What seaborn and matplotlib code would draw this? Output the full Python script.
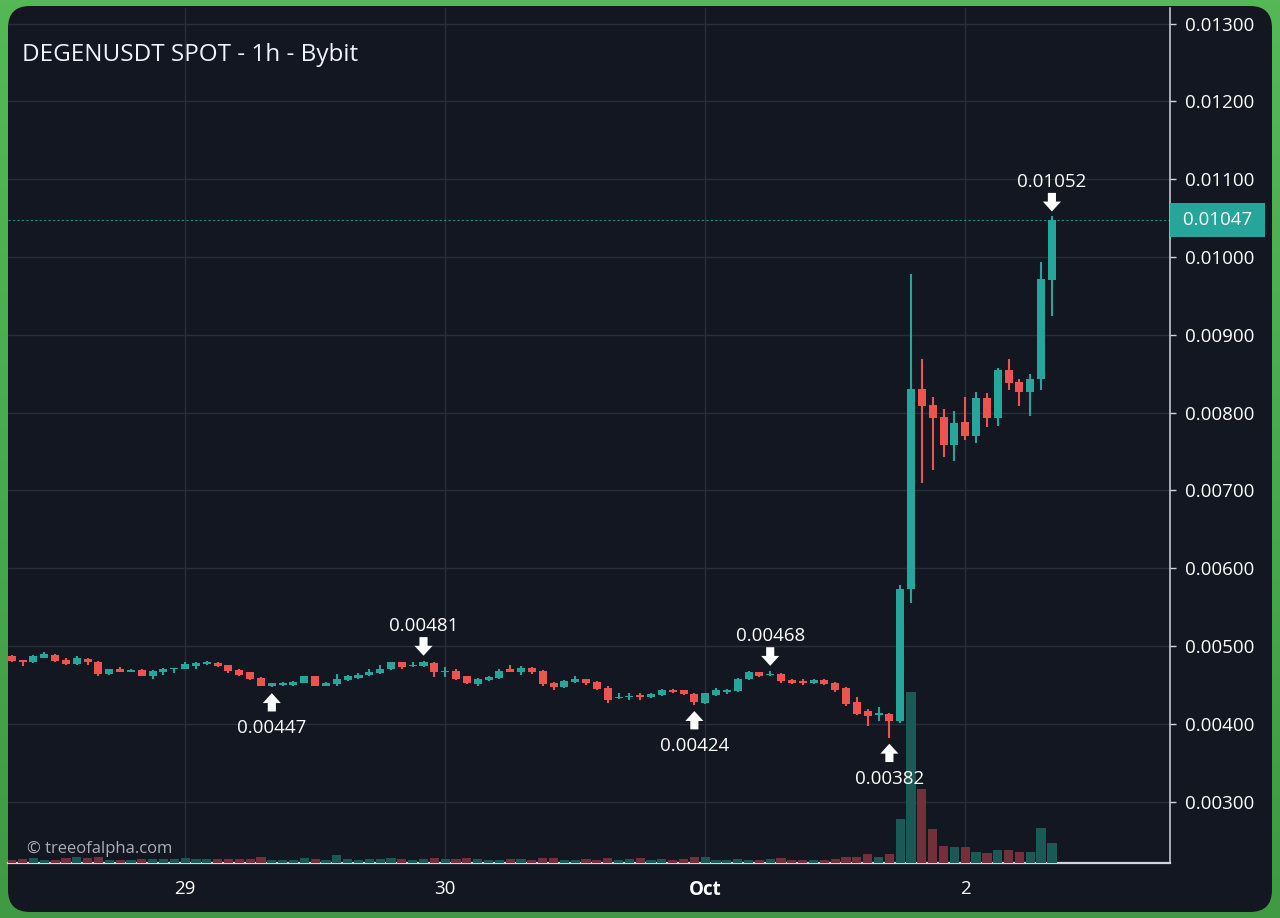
# DEGENUSDT 1h candles with volume - dark chart card

import numpy as np
import pandas as pd
import matplotlib
matplotlib.use("Agg")
from matplotlib import pyplot as plt
from matplotlib.patches import FancyBboxPatch
from matplotlib.colors import LinearSegmentedColormap
from matplotlib.transforms import blended_transform_factory
import seaborn as sns

# ======================================================================
# Data (hourly candles)
# ======================================================================
start_time = "2024-09-28 08:00"

opens = [0.00487, 0.00481, 0.00479, 0.00485, 0.00489, 0.00482, 0.00477, 0.00483, 0.00480, 0.00464,
         0.00470, 0.00467, 0.00469, 0.00461, 0.00467, 0.00470, 0.00471, 0.00474, 0.00477, 0.00478,
         0.00475, 0.00469, 0.00466, 0.00459, 0.00449, 0.00450, 0.00450, 0.00453, 0.00461, 0.00449,
         0.00451, 0.00456, 0.00459, 0.00463, 0.00465, 0.00470, 0.00479, 0.00474, 0.00474, 0.00478,
         0.00467, 0.00468, 0.00461, 0.00451, 0.00456, 0.00459, 0.00470, 0.00467, 0.00472, 0.00468,
         0.00452, 0.00447, 0.00454, 0.00457, 0.00454, 0.00446, 0.00433, 0.00434, 0.00437, 0.00434,
         0.00437, 0.00443, 0.00443, 0.00438, 0.00427, 0.00437, 0.00441, 0.00442, 0.00457, 0.00467,
         0.00463, 0.00464, 0.00456, 0.00455, 0.00452, 0.00456, 0.00453, 0.00446, 0.00428, 0.00416,
         0.00411, 0.00413, 0.00403, 0.00573, 0.00830, 0.00810, 0.00794, 0.00758, 0.00788, 0.00770,
         0.00819, 0.00793, 0.00855, 0.00839, 0.00826, 0.00843, 0.00970]
highs = [0.00488, 0.00482, 0.00488, 0.00492, 0.00490, 0.00484, 0.00487, 0.00485, 0.00481, 0.00471,
         0.00473, 0.00470, 0.00470, 0.00469, 0.00472, 0.00472, 0.00479, 0.00479, 0.00481, 0.00479,
         0.00476, 0.00470, 0.00467, 0.00460, 0.00453, 0.00454, 0.00455, 0.00462, 0.00462, 0.00454,
         0.00464, 0.00463, 0.00465, 0.00470, 0.00475, 0.00480, 0.00480, 0.00479, 0.00481, 0.00479,
         0.00473, 0.00471, 0.00462, 0.00459, 0.00461, 0.00470, 0.00476, 0.00474, 0.00473, 0.00469,
         0.00454, 0.00456, 0.00461, 0.00458, 0.00455, 0.00449, 0.00440, 0.00439, 0.00440, 0.00440,
         0.00445, 0.00445, 0.00444, 0.00439, 0.00440, 0.00446, 0.00445, 0.00459, 0.00468, 0.00467,
         0.00468, 0.00465, 0.00458, 0.00458, 0.00457, 0.00457, 0.00454, 0.00447, 0.00434, 0.00419,
         0.00422, 0.00414, 0.00578, 0.00978, 0.00869, 0.00820, 0.00804, 0.00802, 0.00820, 0.00826,
         0.00825, 0.00857, 0.00869, 0.00843, 0.00849, 0.00994, 0.01052]
lows = [0.00479, 0.00474, 0.00478, 0.00484, 0.00480, 0.00475, 0.00476, 0.00476, 0.00462, 0.00463,
        0.00466, 0.00466, 0.00461, 0.00458, 0.00463, 0.00465, 0.00470, 0.00470, 0.00476, 0.00473,
        0.00465, 0.00462, 0.00456, 0.00448, 0.00447, 0.00449, 0.00449, 0.00452, 0.00448, 0.00448,
        0.00448, 0.00455, 0.00458, 0.00462, 0.00464, 0.00469, 0.00470, 0.00473, 0.00473, 0.00460,
        0.00460, 0.00456, 0.00451, 0.00448, 0.00455, 0.00458, 0.00466, 0.00463, 0.00464, 0.00449,
        0.00443, 0.00446, 0.00452, 0.00450, 0.00443, 0.00427, 0.00432, 0.00431, 0.00431, 0.00433,
        0.00436, 0.00440, 0.00437, 0.00424, 0.00426, 0.00436, 0.00438, 0.00441, 0.00456, 0.00460,
        0.00462, 0.00453, 0.00451, 0.00450, 0.00451, 0.00450, 0.00441, 0.00423, 0.00411, 0.00397,
        0.00403, 0.00382, 0.00401, 0.00555, 0.00710, 0.00726, 0.00743, 0.00738, 0.00765, 0.00761,
        0.00781, 0.00783, 0.00829, 0.00809, 0.00795, 0.00829, 0.00924]
closes = [0.00481, 0.00480, 0.00487, 0.00490, 0.00481, 0.00477, 0.00485, 0.00479, 0.00464, 0.00470,
          0.00467, 0.00469, 0.00462, 0.00468, 0.00470, 0.00471, 0.00477, 0.00478, 0.00479, 0.00474,
          0.00468, 0.00463, 0.00457, 0.00448, 0.00452, 0.00452, 0.00454, 0.00461, 0.00449, 0.00453,
          0.00458, 0.00461, 0.00463, 0.00467, 0.00470, 0.00479, 0.00473, 0.00476, 0.00479, 0.00466,
          0.00468, 0.00457, 0.00452, 0.00458, 0.00460, 0.00468, 0.00467, 0.00472, 0.00467, 0.00451,
          0.00447, 0.00455, 0.00458, 0.00452, 0.00445, 0.00431, 0.00435, 0.00436, 0.00434, 0.00438,
          0.00444, 0.00441, 0.00438, 0.00428, 0.00439, 0.00444, 0.00443, 0.00458, 0.00467, 0.00461,
          0.00464, 0.00455, 0.00452, 0.00452, 0.00456, 0.00451, 0.00444, 0.00425, 0.00413, 0.00410,
          0.00414, 0.00404, 0.00573, 0.00830, 0.00809, 0.00793, 0.00758, 0.00787, 0.00770, 0.00819,
          0.00793, 0.00855, 0.00838, 0.00826, 0.00843, 0.00972, 0.01047]
# volume in millions of DEGEN (approximate)
volumes = [3.3, 4.0, 4.7, 3.3, 3.3, 5.3, 5.7, 5.3, 5.7, 3.0,
           3.3, 3.3, 3.7, 4.3, 4.3, 4.0, 4.7, 3.7, 3.7, 4.0,
           3.7, 3.7, 4.0, 6.3, 3.3, 3.3, 3.3, 5.3, 4.0, 3.3,
           7.7, 3.7, 3.3, 4.3, 4.3, 5.3, 4.0, 3.3, 3.7, 5.0,
           4.0, 4.0, 4.7, 4.3, 3.3, 3.3, 4.0, 4.3, 3.0, 5.0,
           5.0, 3.3, 3.3, 4.0, 3.3, 5.0, 3.3, 4.3, 5.0, 3.3,
           4.3, 3.3, 4.0, 5.7, 6.0, 3.3, 3.3, 4.3, 3.3, 3.3,
           3.7, 5.0, 3.3, 3.3, 3.3, 3.3, 4.5, 5.7, 5.7, 9.3,
           6.5, 9.3, 44.3, 171.7, 74.3, 34.3, 16.7, 15.7, 15.7, 11.3,
           9.7, 13.3, 12.7, 10.7, 11.3, 34.7, 19.7]

marked_highs = [38, 70, 96]
marked_lows = [24, 63, 81]
price_ticks = [0.003, 0.004, 0.005, 0.006, 0.007, 0.008, 0.009, 0.010, 0.011, 0.012, 0.013]

title = "DEGENUSDT SPOT - 1h - Bybit"
watermark = "© treeofalpha.com"

up_color = "#26a69a"
down_color = "#ef5350"
vol_colors = {"up": "#1a5a56", "down": "#74303a"}
panel_color = "#131722"
grid_color = "#2a2e39"
text_color = "#ffffff"
axis_color = "#d1d4dc"

times = pd.date_range(start_time, periods=len(opens), freq="h")
df = pd.DataFrame({"t": np.arange(len(opens)), "open": opens, "high": highs,
                   "low": lows, "close": closes, "volume": volumes})
df["dir"] = np.where(df["close"] >= df["open"], "up", "down")
candle_colors = df["dir"].map({"up": up_color, "down": down_color})

# day ticks at midnight, month name on the 1st
day_idx = df["t"][times.hour == 0].tolist()
day_labels = [t.strftime("%b") if t.day == 1 else str(t.day) for t in times[times.hour == 0]]

# ======================================================================
# Figure
# ======================================================================
sns.set_theme(style="dark")
plt.rcParams["font.family"] = ["Open Sans", "DejaVu Sans"]

fig = plt.figure(figsize=(12.8, 9.18), dpi=100)

# green card border with a soft gradient
bg = fig.add_axes([0, 0, 1, 1], zorder=-10)
green = LinearSegmentedColormap.from_list("green", ["#55b857", "#3f9a43"])
bg.imshow(np.linspace(0, 1, 256)[:, None], cmap=green, aspect="auto", extent=[0, 1, 0, 1])
bg.axis("off")

panel = FancyBboxPatch((0.08, 0.06), 12.64, 9.06, boxstyle="round,pad=0,rounding_size=0.22",
                       transform=fig.dpi_scale_trans, fc=panel_color, ec="none", zorder=-5)
fig.add_artist(panel)

ax = fig.add_axes([8 / 1280, 55 / 918, 1162 / 1280, 855 / 918])
ax2 = ax.twinx()

# candles
ax.vlines(df["t"], df["low"], df["high"], colors=candle_colors, lw=1.5, zorder=3)
body_low = df[["open", "close"]].min(axis=1)
body_h = (df["open"] - df["close"]).abs().clip(lower=0.000013)
ax.bar(df["t"], body_h, bottom=body_low, width=0.74, color=candle_colors, lw=0, zorder=4)

# volume
sns.barplot(data=df, x="t", y="volume", hue="dir", palette=vol_colors, native_scale=True,
            dodge=False, width=0.85, saturation=1, errorbar=None, legend=False, ax=ax2,
            linewidth=0, edgecolor="none")
ax2.set_ylim(0, max(volumes) / 0.2)
ax2.set_yticks([])
ax2.set_ylabel("")
for s in ax2.spines.values():
    s.set_visible(False)

# axes styling
ax.patch.set_visible(False)
ax.set_xlim(-0.35, 106.9)
ax.set_ylim(0.00221, 0.0132)
ax.set_xticks(day_idx)
ax.set_xticklabels(day_labels)
for lab in ax.get_xticklabels():
    if lab.get_text().isalpha():
        lab.set_fontweight("bold")
ax.set_yticks(price_ticks)
ax.set_yticklabels([f"{p:.5f}" for p in price_ticks])
ax.yaxis.tick_right()
ax.tick_params(axis="y", colors=axis_color, labelcolor=text_color, labelsize=13.5,
               length=4.5, width=1, pad=6)
ax.tick_params(axis="x", colors=axis_color, labelcolor=text_color, labelsize=13.5,
               length=4, width=1, pad=8)
ax.grid(True, color=grid_color, lw=1)
ax.set_axisbelow(True)
ax.set_xlabel("")
ax.set_ylabel("")
for side in ["top", "left"]:
    ax.spines[side].set_visible(False)
ax.spines["right"].set_color(axis_color)
ax.spines["right"].set_linewidth(1.1)
ax.spines["bottom"].set_color(axis_color)
ax.spines["bottom"].set_linewidth(1.6)

# last price line and label
last = closes[-1]
ax.axhline(last, color=up_color, lw=0.8, ls=(0, (2, 2)), alpha=0.8, zorder=2)
trans = blended_transform_factory(ax.transAxes, ax.transData)
ax2.text(1.0 + 8 / 1162, last, f" {last:.5f} ", transform=trans, ha="left", va="center",
         fontsize=13.5, color=text_color, clip_on=False,
         bbox=dict(boxstyle="square,pad=0.43", fc=up_color, ec="none"))

# high / low markers
arrow = dict(arrowstyle="simple,head_length=0.55,head_width=1.0,tail_width=0.45",
             mutation_scale=13, fc="white", ec="none", shrinkA=0)
for i in marked_highs:
    ax2.annotate("", xy=(i, highs[i]), xycoords=ax.transData, xytext=(0, 17),
                 textcoords="offset points", arrowprops=dict(arrow, shrinkB=3.6))
    ax2.annotate(f"{highs[i]:.5f}", xy=(i, highs[i]), xycoords=ax.transData, xytext=(0, 25),
                 textcoords="offset points", ha="center", va="center", fontsize=13.5,
                 color=text_color)
for i in marked_lows:
    ax2.annotate("", xy=(i, lows[i]), xycoords=ax.transData, xytext=(0, -17.5),
                 textcoords="offset points", arrowprops=dict(arrow, shrinkB=4.3))
    ax2.annotate(f"{lows[i]:.5f}", xy=(i, lows[i]), xycoords=ax.transData, xytext=(0, -29.5),
                 textcoords="offset points", ha="center", va="center", fontsize=13.5,
                 color=text_color)

# title and watermark
ax2.text(14 / 1162, 0.945, title, transform=ax.transAxes, ha="left", va="center",
         fontsize=17.5, color="#f0f3fa")
ax2.text(19 / 1162, 14 / 855, watermark, transform=ax.transAxes, ha="left", va="center",
         fontsize=12, color="#a9adb8")

fig.savefig("out.png", dpi=100)
